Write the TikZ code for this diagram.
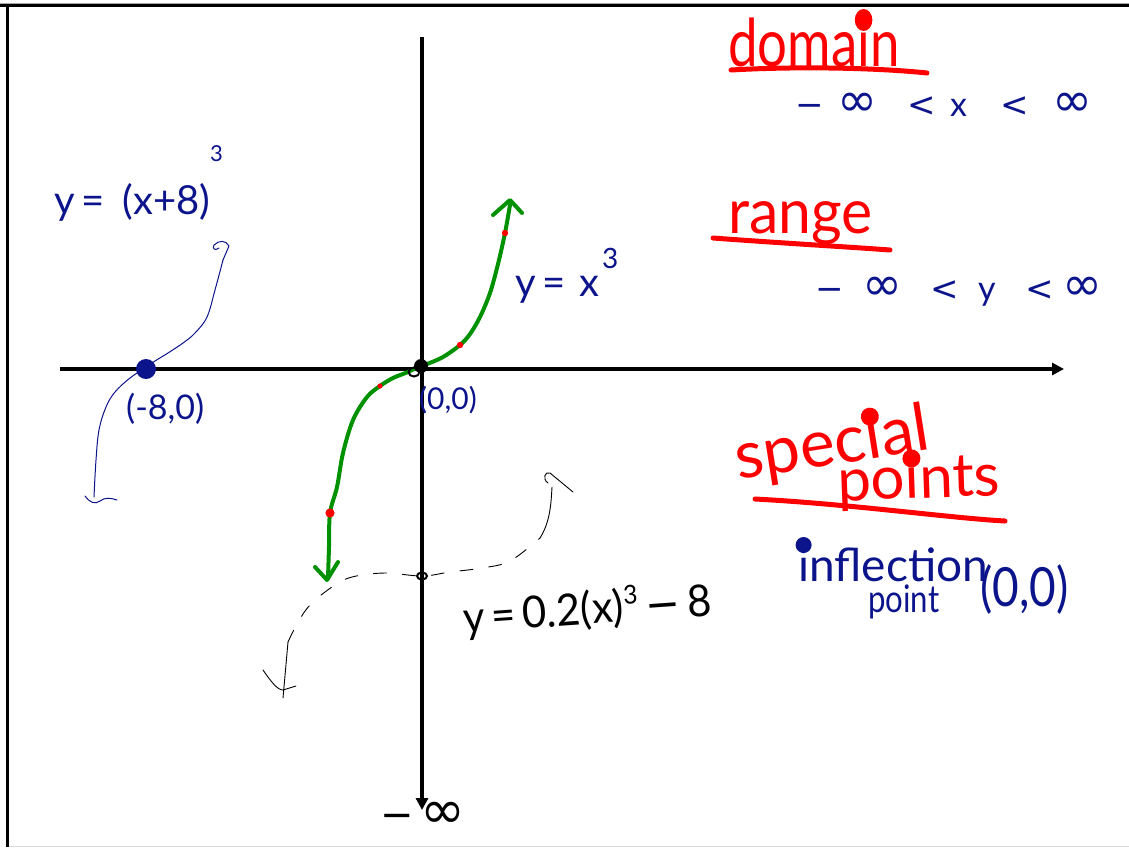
\documentclass[tikz,border=0pt]{standalone}
\usepackage{fontspec}
\setmainfont{Lato}
\newfontfamily\symf{DejaVu Sans}
\usetikzlibrary{arrows.meta,shapes.geometric}
\definecolor{pen}{RGB}{12,20,140}
\definecolor{gcurve}{RGB}{0,145,0}
\definecolor{redpen}{RGB}{255,0,0}
\newcommand{\myfs}[1]{\fontsize{#1}{#1}\selectfont}
\newcommand{\bx}[2]{\makebox[#1pt][l]{#2}}
\newcommand{\myinfty}{{\symf\myfs{48}∞}}
% big dot over an i: #1 shift, #2 raise, #3 radius, #4 colour
\newcommand{\idot}[4]{\makebox[0pt][l]{\hspace{#1pt}\raisebox{#2pt}{\tikz\fill[#4] (0pt,0pt) circle (#3pt);}}}
\begin{document}
\begin{tikzpicture}[x=1pt,y=-1pt,
  txt/.style={inner sep=0pt, anchor=base west},
  bluetxt/.style={txt, text=pen},
  redtxt/.style={txt, text=redpen},
  blacktxt/.style={txt, text=black},
  axisline/.style={line width=4pt, -{Triangle[length=12pt,width=12pt]}},
  thinblue/.style={pen, line width=1pt, line cap=round, line join=round},
  thinblack/.style={black, line width=0.9pt, line cap=round, line join=round},
  greenpen/.style={gcurve, line width=4pt, line cap=round, line join=round},
  redline/.style={redpen, line width=5pt, line cap=round},
  dashpen/.style={thinblack, dash pattern=on 13pt off 16pt}
]
\useasboundingbox (0,0) rectangle (1129,847);
% frame
\fill[black!35] (0,3) rectangle (1129,4.2);
\fill[black] (0,4.2) rectangle (1129,7);
\fill[black] (6,4.2) rectangle (9,847);
\fill[black!15] (9,845.5) rectangle (1129,847);

% axes
\coordinate (xl) at (60,369);
\coordinate (xr) at (1064,369);
\coordinate (yt) at (422,37);
\coordinate (yb) at (422,810);
\draw[axisline] (xl) -- (xr);
\draw[axisline] (yt) -- (yb);

% green cubic y = x^3
\draw[greenpen] plot[smooth, tension=0.55] coordinates {(328,578) (329,547) (330,513) (337,487) (343,453) (353,420) (367,397) (380,386) (393,378) (408,372) (420,366) (427,364) (443,357) (460,345) (470,334) (480,317) (490,293) (498,264) (505,233) (510,205)};
\coordinate (gt) at (510,200);
\coordinate (gb) at (327,580);
\draw[greenpen] (493,215) -- (gt) -- (522,213);
\draw[greenpen] (315,567) -- (gb) -- (338,562);
\fill[redpen] (505,233) circle (3.2);
\fill[redpen] (460,345) circle (3.2);
\fill[redpen] (380,386) circle (2.6);
\fill[redpen] (330,513) circle (4.6);

% origin point
\node[circle, fill=black, inner sep=0pt, minimum size=14pt] (o) at (421,366) {};
\draw[line width=2pt] (414,372) ellipse (5.5 and 4.5);

% blue shifted cubic y=(x+8)^3
\draw[thinblue] plot[smooth, tension=0.6] coordinates {(223,260) (215,290) (207,317) (195,333) (183,343) (168,353) (155,361) (145,368) (130,378) (115,392) (106,407) (99,430) (96,460) (94,497)};
\draw[thinblue] (223,260) -- (229,246) .. controls (226,240) and (219,240) .. (214,245) .. controls (212,249) and (215,251) .. (219,248);
\draw[thinblue] (85,496) .. controls (89,502) and (95,505) .. (100,501) .. controls (105,497) and (111,498) .. (117,500);
\node[circle, fill=pen, inner sep=0pt, minimum size=20pt] (m8) at (146,369) {};

% dashed curve y=0.2x^3-8
\draw[dashpen] plot[smooth, tension=0.6] coordinates {(288,642) (297,624) (310,605) (332,587) (352,577) (385,573) (422,576) (450,572) (482,568) (510,561) (540,538)};
\draw[thinblack] (540,538) .. controls (550,522) and (551,505) .. (552,487);
\draw[thinblack] (288,642) -- (283,698);
\draw[thinblack] (548,483) .. controls (542,479) and (545,471) .. (550,473) -- (573,492);
\draw[thinblack] (263,670) .. controls (270,680) and (277,690) .. (283,690) -- (296,686);
\node[ellipse, draw=black, line width=2pt, inner sep=0pt, minimum width=10pt, minimum height=7pt] (p8) at (422,576) {};

% labels on graph
\node[bluetxt, font=\myfs{40}] (lbl1) at (54,214) {y\,=\;\,(x+8)};
\node[bluetxt, font=\myfs{22}] (lbl1e) at (210,161) {3};
\node[bluetxt, font=\myfs{34}] (lbl2) at (126,419) {(-8,0)};
\node[bluetxt, font=\myfs{40}] (lbl3) at (515,296) {y\,=\,\,x};
\node[bluetxt, font=\myfs{28}] (lbl3e) at (602,268) {3};
\node[bluetxt, font=\myfs{30}] (lbl4) at (419,409) {(0,0)};
\node[blacktxt, font=\myfs{44}, rotate=4, xscale=0.95] (lbl5) at (464,633) {y\,=\,0.2(x)\raisebox{17pt}{\myfs{26}3}\,{\symf −}\,8};
\node[blacktxt, font=\myfs{40}] (minf) at (380,828) {\bx{40}{{\symf −}}{\symf\myfs{54}∞}};

% right-hand notes
\node[redtxt, font=\myfs{66}, xscale=0.8] (dom) at (728,66) {doma\idot{-3.2}{35}{11}{redpen}in};
\draw[redline] (731,70) .. controls (800,66) and (880,68) .. (927,73);
\node[bluetxt, font=\myfs{34}] (domi) at (795,116) {\bx{42}{{\symf −}}\bx{70}{\myinfty}\bx{43}{{\symf <}}\bx{50}{x}\bx{52}{{\symf <}}\myinfty};

\node[redtxt, font=\myfs{62}, xscale=0.95] (rng) at (728,233) {range};
\draw[redline] (713,238) .. controls (780,243) and (850,247) .. (890,250);
\node[bluetxt, font=\myfs{34}] (rngi) at (815,300) {\bx{47}{{\symf −}}\bx{68}{\myinfty}\bx{48}{{\symf <}}\bx{47}{y}\bx{37}{{\symf <}}\myinfty};

\node[redtxt, font=\myfs{66}, rotate=9] (sp1) at (738,480) {spec\idot{-1}{33}{9}{redpen}ial};
\node[redtxt, font=\myfs{60}, rotate=2] (sp2) at (838,501) {po\idot{-2}{31}{9}{redpen}ints};
\draw[redline] (755,499) .. controls (850,504) and (950,518) .. (1005,521);

\node[bluetxt, font=\myfs{46}] (infl) at (798,581) {\idot{-2.6}{28}{8}{pen}inflection};
\node[bluetxt, font=\myfs{38}, xscale=0.82] (pt) at (868,612) {point};
\node[bluetxt, font=\myfs{54}, xscale=0.85] (pt00) at (980,606) {(0,0)};
\end{tikzpicture}
\end{document}
